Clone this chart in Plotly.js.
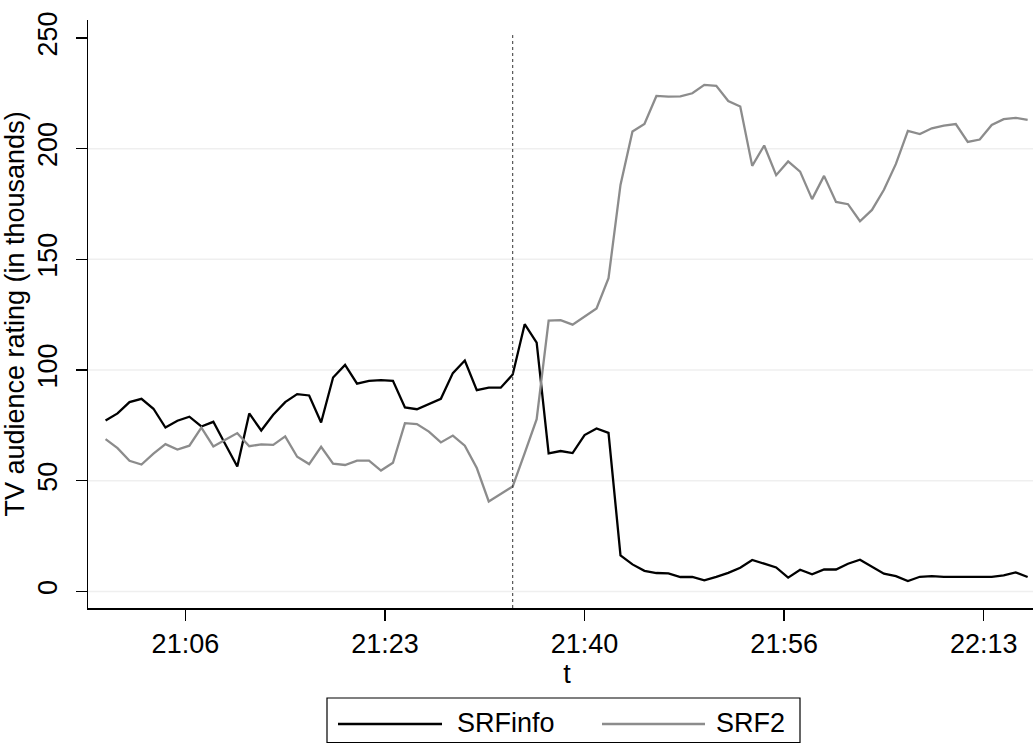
<!DOCTYPE html>
<html>
<head>
<meta charset="utf-8">
<script src="https://cdn.plot.ly/plotly-3.0.1.min.js"></script>
<style>
html, body { margin: 0; padding: 0; background: #ffffff; overflow: hidden; }
#chart { width: 1046px; height: 744px; }
</style>
</head>
<body>
<div id="chart"></div>
<script>
// Minute-by-minute timestamps (HH:MM)
var times = [
  '21:00','21:01','21:02','21:03','21:04','21:05','21:06','21:07','21:08','21:09',
  '21:10','21:11','21:12','21:13','21:14','21:15','21:16','21:17','21:18','21:19',
  '21:20','21:21','21:22','21:23','21:24','21:25','21:26','21:27','21:28','21:29',
  '21:30','21:31','21:32','21:33','21:34','21:35','21:36','21:37','21:38','21:39',
  '21:40','21:41','21:42','21:43','21:44','21:45','21:46','21:47','21:48','21:49',
  '21:50','21:51','21:52','21:53','21:54','21:55','21:56','21:57','21:58','21:59',
  '22:00','22:01','22:02','22:03','22:04','22:05','22:06','22:07','22:08','22:09',
  '22:10','22:11','22:12','22:13','22:14','22:15','22:16','22:17'
];

// SRFinfo audience (thousands)
var srfInfo = [
  77.2, 80.4, 85.5, 87.0, 82.5, 74.0, 77.1, 78.9, 74.5, 76.6,
  66.5, 56.4, 80.4, 72.7, 79.8, 85.5, 89.1, 88.5, 76.3, 96.6,
  102.3, 93.8, 95.1, 95.4, 95.1, 83.1, 82.3, 84.7, 87.0, 98.6,
  104.3, 90.9, 92.0, 92.0, 98.0, 120.7, 112.4, 62.3, 63.4, 62.5,
  70.6, 73.6, 71.6, 16.3, 12.2, 9.3, 8.3, 8.1, 6.5, 6.6,
  5.0, 6.6, 8.4, 10.7, 14.2, 12.5, 10.8, 6.2, 9.8, 7.7,
  9.9, 9.9, 12.5, 14.3, 11.3, 8.0, 6.9, 4.7, 6.6, 6.9,
  6.6, 6.6, 6.6, 6.6, 6.6, 7.2, 8.6, 6.5
];

// SRF2 audience (thousands)
var srf2 = [
  68.8, 64.7, 59.0, 57.3, 62.2, 66.5, 64.1, 65.8, 74.0, 65.5,
  68.5, 71.5, 65.6, 66.4, 66.2, 70.0, 60.8, 57.5, 65.3, 57.7,
  57.1, 59.1, 59.1, 54.6, 58.1, 76.0, 75.6, 72.2, 67.3, 70.4,
  65.8, 55.7, 40.6, 44.0, 47.4, 62.5, 77.8, 122.3, 122.5, 120.5,
  124.0, 127.8, 141.5, 183.6, 207.7, 211.1, 223.8, 223.5, 223.6, 225.0,
  228.8, 228.4, 221.5, 219.0, 192.2, 201.4, 188.0, 194.2, 189.6, 177.2,
  187.7, 175.9, 174.9, 167.2, 172.3, 181.4, 193.1, 208.0, 206.6, 209.2,
  210.4, 211.1, 203.0, 204.1, 210.7, 213.3, 213.9, 213.0
];

var seriesNames = ['SRFinfo', 'SRF2'];
var seriesColors = ['#000000', '#8c8c8c'];
var xTickVals = ['21:06:40', '21:23:20', '21:40:00', '21:56:40', '22:13:20'];
var xTickText = ['21:06', '21:23', '21:40', '21:56', '22:13'];
var yTickVals = [0, 50, 100, 150, 200, 250];
var gridVals = [0, 50, 100, 150, 200];
var eventTime = '21:34:00';
var xRange = ['20:58:32', '22:18:32'];

var day = '2000-01-01 ';
function d(t) { return day + t; }
var xs = times.map(function (t) { return d(t + ':00'); });

var FONT = 'Liberation Sans, Arimo, Helvetica, Arial, sans-serif';
var W = 1046, H = 744, ML = 88, MR = 0, MT = 20, MB = 136;
var PW = W - ML - MR, PH = H - MT - MB;
function px(xp) { return (xp - ML) / PW; }
function py(yp) { return (H - MB - yp) / PH; }

var traces = [
  { x: xs, y: srfInfo, name: seriesNames[0], type: 'scatter', mode: 'lines',
    line: { color: seriesColors[0], width: 2.3 } },
  { x: xs, y: srf2, name: seriesNames[1], type: 'scatter', mode: 'lines',
    line: { color: seriesColors[1], width: 2.3 } }
];

var shapes = gridVals.map(function (v) {
  return { type: 'line', xref: 'paper', yref: 'y', x0: 0, x1: 1, y0: v, y1: v,
           line: { color: '#efefef', width: 1.5 }, layer: 'below' };
});
shapes.push({ type: 'line', xref: 'x', yref: 'y', x0: d(eventTime), x1: d(eventTime),
              y0: -7.5, y1: 251.3, line: { color: '#333333', width: 1, dash: 'dot' }, layer: 'above' });

// Legend (box, line samples, labels)
shapes.push({ type: 'rect', xref: 'paper', yref: 'paper',
              x0: px(327), x1: px(800), y0: py(698), y1: py(742.5),
              line: { color: '#000000', width: 1.2 }, fillcolor: 'rgba(0,0,0,0)' });
var legLines = [[338, 442], [602, 705]];
var legText = [455, 714];
var annotations = [];
for (var i = 0; i < 2; i++) {
  shapes.push({ type: 'line', xref: 'paper', yref: 'paper',
                x0: px(legLines[i][0]), x1: px(legLines[i][1]), y0: py(724), y1: py(724),
                line: { color: seriesColors[i], width: 2.3 } });
  annotations.push({ xref: 'paper', yref: 'paper', x: px(legText[i]), y: py(723),
                     xanchor: 'left', yanchor: 'middle', showarrow: false,
                     text: seriesNames[i], font: { family: FONT, size: 27, color: '#000000' } });
}

var layout = {
  width: W, height: H,
  margin: { l: ML, r: MR, t: MT, b: MB },
  paper_bgcolor: '#ffffff', plot_bgcolor: '#ffffff',
  font: { family: FONT, size: 27, color: '#000000' },
  showlegend: false,
  xaxis: {
    type: 'date', range: [d(xRange[0]), d(xRange[1])],
    tickmode: 'array', tickvals: xTickVals.map(d), ticktext: xTickText,
    ticks: 'outside', ticklen: 11, tickwidth: 1.5, tickcolor: '#000000',
    showline: true, linecolor: '#000000', linewidth: 1.5,
    showgrid: false, zeroline: false,
    tickfont: { family: FONT, size: 27 },
    title: { text: 't', font: { family: FONT, size: 27 }, standoff: 4 }
  },
  yaxis: {
    range: [-7.5, 258.1], tickmode: 'array', tickvals: yTickVals,
    ticks: 'outside', ticklen: 11, tickwidth: 1.5, tickcolor: '#000000',
    showline: true, linecolor: '#000000', linewidth: 1.5,
    showgrid: false, zeroline: false, tickangle: -90, ticklabelstandoff: 8,
    tickfont: { family: FONT, size: 27 },
    title: { text: 'TV audience rating (in thousands)', font: { family: FONT, size: 27 }, standoff: 0 }
  },
  shapes: shapes,
  annotations: annotations
};

Plotly.newPlot('chart', traces, layout, { displayModeBar: false, staticPlot: true });
</script>
</body>
</html>
